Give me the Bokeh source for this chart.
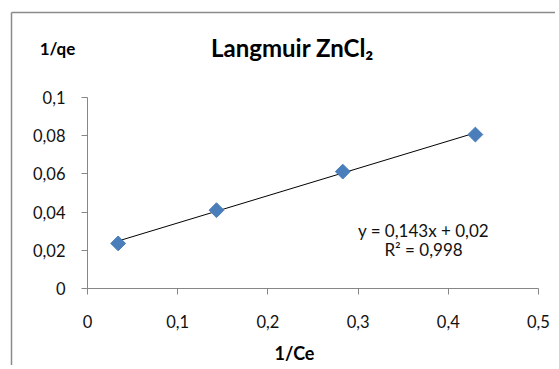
import math
from bokeh.plotting import figure
from bokeh.models import Label, FixedTicker, Range1d
from bokeh.embed import file_html
from bokeh.resources import INLINE

# data
x_inv_ce = [0.034, 0.143, 0.283, 0.430]
y_inv_qe = [0.0236, 0.0410, 0.0612, 0.0806]
slope = 0.143
intercept = 0.02
r2 = 0.998
x_ticks = [0, 0.1, 0.2, 0.3, 0.4, 0.5]
x_tick_labels = ["0", "0,1", "0,2", "0,3", "0,4", "0,5"]
y_ticks = [0, 0.02, 0.04, 0.06, 0.08, 0.1]
y_tick_labels = ["0", "0,02", "0,04", "0,06", "0,08", "0,1"]
title_text = "Langmuir ZnCl\u2082"
x_label = "1/Ce"
y_label = "1/qe"
eq_text = "y = 0,143x + 0,02"
r2_text = "R\u00b2 = 0,998"

FONT = "Lato"
TXT = "#111111"
W, H = 555, 365
# pixel layout of the plot area inside the canvas
X0_PX, X1_PX = 87, 538   # x = 0 and x = 0.5
Y0_PX, Y1_PX = 288, 97   # y = 0 and y = 0.1
xs_per_px = (x_ticks[-1] - x_ticks[0]) / (X1_PX - X0_PX)
ys_per_px = (y_ticks[-1] - y_ticks[0]) / (Y0_PX - Y1_PX)

def px_x(px):
    return (px - X0_PX) * xs_per_px

def px_y(py):
    return (Y0_PX - py) * ys_per_px

p = figure(width=W, height=H, output_backend="svg", toolbar_location=None,
           x_range=Range1d(px_x(0), px_x(W)), y_range=Range1d(px_y(H), px_y(0)),
           min_border=0, min_border_left=0, min_border_right=0,
           min_border_top=0, min_border_bottom=0)
p.outline_line_color = None
p.xgrid.visible = False
p.ygrid.visible = False
p.background_fill_color = "white"
p.border_fill_color = "white"

# chart-area frame (top and left edges visible)
FRAME_C = "#8a8a8a"
p.segment(x0=[px_x(11), px_x(11)], y0=[px_y(12), px_y(12)],
          x1=[px_x(W + 10), px_x(11)], y1=[px_y(12), px_y(H + 10)],
          line_color=FRAME_C, line_width=1.5)

for ax, ticks, labels in ((p.xaxis[0], x_ticks, x_tick_labels), (p.yaxis[0], y_ticks, y_tick_labels)):
    ax.fixed_location = 0
    ax.bounds = (ticks[0], ticks[-1])
    ax.ticker = FixedTicker(ticks=ticks)
    ax.major_label_overrides = {t: l for t, l in zip(ticks, labels)}
    ax.axis_line_color = "#868686"
    ax.major_tick_line_color = "#868686"
    ax.major_tick_out = 6
    ax.major_tick_in = 0
    ax.minor_tick_line_color = None
    ax.major_label_text_font = FONT
    ax.major_label_text_font_size = "16.5px"
    ax.major_label_text_color = TXT
p.xaxis.major_label_standoff = 20
p.yaxis.major_label_standoff = 16

# trendline
xs = [x_inv_ce[0], x_inv_ce[-1]]
ys = [slope * v + intercept for v in xs]
p.line(xs, ys, line_color="black", line_width=1)
p.scatter(x_inv_ce, y_inv_qe, marker="square", angle=math.pi / 4, size=10.5,
          fill_color="#4A7EBB", line_color="#4A7EBB", line_width=1)

def screen_label(x, y, text, size, bold=False, align="center"):
    p.add_layout(Label(x=x, y=H - y, x_units="screen", y_units="screen", text=text,
                       text_font=FONT, text_font_size=size,
                       text_font_style="bold" if bold else "normal",
                       text_color="black" if bold else TXT,
                       text_align=align, text_baseline="middle"))

screen_label(423, 230, eq_text, "17px")
screen_label(423, 249, r2_text, "17px")
screen_label(292, 47, title_text, "24px", bold=True)
screen_label(57, 48, y_label, "17px", bold=True)
screen_label(294, 352, x_label, "18px", bold=True)

open("out.html", "w").write(file_html(p, INLINE))
